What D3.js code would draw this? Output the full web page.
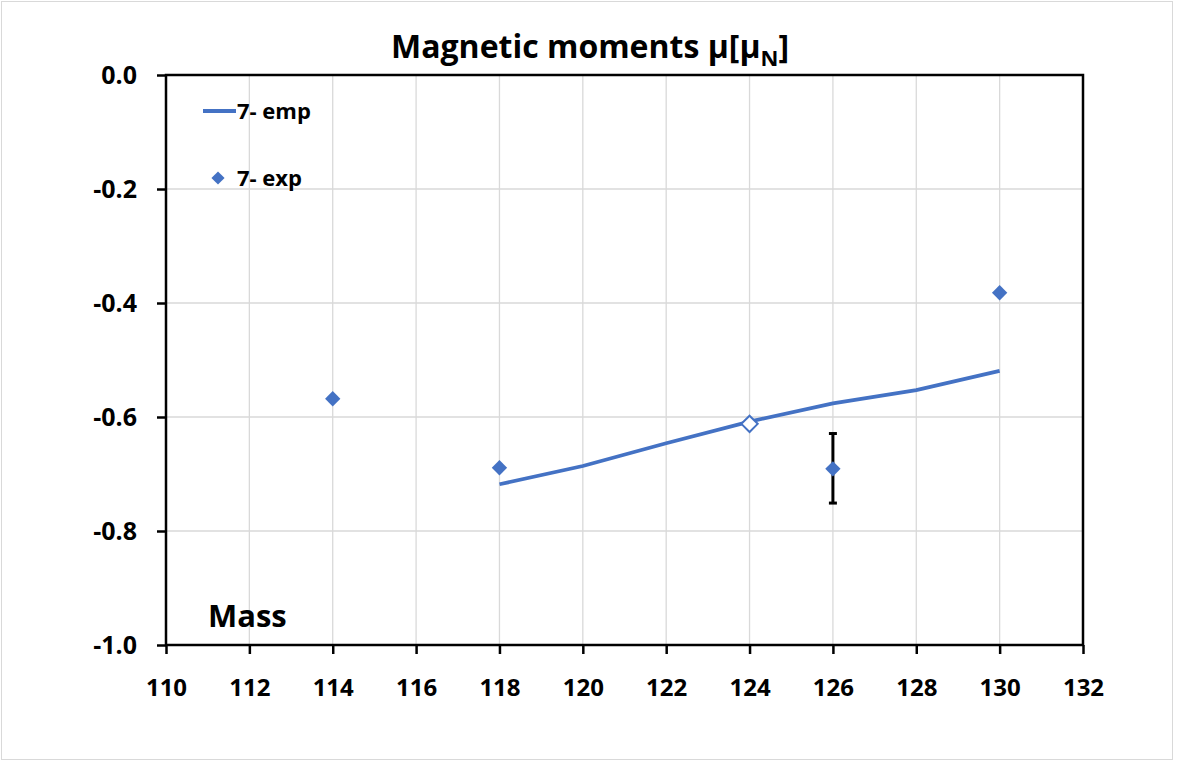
<!DOCTYPE html>
<html><head><meta charset="utf-8">
<script src="https://cdn.jsdelivr.net/npm/d3@7"></script>
<style>body{margin:0;background:#fff}svg{display:block}text{font-family:"Open Sans",sans-serif;font-weight:bold;fill:#000}</style>
</head><body>
<script>
const xTicks = [110,112,114,116,118,120,122,124,126,128,130,132];
const yTicks = [0,-0.2,-0.4,-0.6,-0.8,-1.0];
const empMass = [118,120,122,124,126,128,130];
const empMu = [-0.718,-0.686,-0.646,-0.608,-0.576,-0.553,-0.519];
const expMass = [114,118,126,130];
const expMu = [-0.568,-0.689,-0.691,-0.382];
const openMass = [124];
const openMu = [-0.612];
const errMass = [126];
const errLow = [-0.751];
const errHigh = [-0.629];

const W=1182,H=765;
const L=166,R=1083,T=75,B=645;
const svg=d3.select("body").append("svg").attr("width",W).attr("height",H);
svg.append("rect").attr("x",1.5).attr("y",1.5).attr("width",1171).attr("height",758).attr("fill","#fff").attr("stroke","#d9d9d9");
const x=d3.scaleLinear().domain([110,132]).range([L,R]);
const y=d3.scaleLinear().domain([-1,0]).range([B,T]);
// grid
svg.append("g").selectAll("line").data(xTicks.slice(1,-1)).join("line")
 .attr("x1",d=>x(d)).attr("x2",d=>x(d)).attr("y1",T).attr("y2",B).attr("stroke","#d9d9d9").attr("stroke-width",1.3);
svg.append("g").selectAll("line").data(yTicks.slice(1,-1)).join("line")
 .attr("y1",d=>y(d)).attr("y2",d=>y(d)).attr("x1",L).attr("x2",R).attr("stroke","#d9d9d9").attr("stroke-width",1.3);
// axes
const fmtY=d=>d3.format(".1f")(d).replace("−","-");
const xa=svg.append("g").attr("transform",`translate(0,${B})`).call(d3.axisBottom(x).tickValues(xTicks).tickSize(9).tickPadding(25).tickFormat(d3.format("d")));
const ya=svg.append("g").attr("transform",`translate(${L},0)`).call(d3.axisLeft(y).tickValues(yTicks).tickSize(9).tickPadding(20).tickFormat(fmtY));
[xa,ya].forEach(a=>{a.select(".domain").remove();a.selectAll("line").attr("stroke","#000").attr("stroke-width",2.5);a.selectAll("text").style("font-size","25px").style("font-family","'Open Sans',sans-serif").style("font-weight","bold").attr("fill","#000");});
xa.selectAll("text").style("font-size","24px");
ya.selectAll("text").attr("dy","0.35em");
svg.append("rect").attr("x",L).attr("y",T).attr("width",R-L).attr("height",B-T).attr("fill","none").attr("stroke","#000").attr("stroke-width",2.5);
// line
const col="#4472C4";
svg.append("path").datum(empMass.map((m,i)=>[m,empMu[i]])).attr("fill","none").attr("stroke",col).attr("stroke-width",3.8)
 .attr("d",d3.line().x(d=>x(d[0])).y(d=>y(d[1])));
// error bar
errMass.forEach((m,i)=>{
 const g=svg.append("g").attr("stroke","#000").attr("stroke-width",3);
 g.append("line").attr("x1",x(m)).attr("x2",x(m)).attr("y1",y(errLow[i])).attr("y2",y(errHigh[i]));
 g.append("line").attr("x1",x(m)-4).attr("x2",x(m)+4).attr("y1",y(errLow[i])).attr("y2",y(errLow[i]));
 g.append("line").attr("x1",x(m)-4).attr("x2",x(m)+4).attr("y1",y(errHigh[i])).attr("y2",y(errHigh[i]));
});
const dia=d3.symbol().type(d3.symbolDiamond2).size(150);
svg.append("g").selectAll("path").data(expMass.map((m,i)=>[m,expMu[i]])).join("path")
 .attr("d",dia).attr("transform",d=>`translate(${x(d[0])},${y(d[1])})`).attr("fill",col);
svg.append("g").selectAll("path").data(openMass.map((m,i)=>[m,openMu[i]])).join("path")
 .attr("d",d3.symbol().type(d3.symbolDiamond2).size(170)).attr("transform",d=>`translate(${x(d[0])},${y(d[1])})`).attr("fill","#fff").attr("stroke",col).attr("stroke-width",2);
// legend
svg.append("line").attr("x1",203).attr("x2",236).attr("y1",111).attr("y2",111).attr("stroke",col).attr("stroke-width",3.8);
svg.append("text").attr("x",237).attr("y",111).attr("dy","0.35em").style("font-size","22px").text("7- emp");
svg.append("path").attr("d",d3.symbol().type(d3.symbolDiamond2).size(110)).attr("transform","translate(218,178)").attr("fill",col);
svg.append("text").attr("x",237).attr("y",178).attr("dy","0.35em").style("font-size","22px").text("7- exp");
// title
const t=svg.append("text").attr("x",590).attr("y",58).attr("text-anchor","middle").style("font-size","32px");
t.append("tspan").text("Magnetic moments μ[μ");
t.append("tspan").attr("dy",8).style("font-size","22px").text("N");
t.append("tspan").attr("dy",-8).text("]");
svg.append("text").attr("x",208).attr("y",627).style("font-size","31px").text("Mass");
</script>
</body></html>
